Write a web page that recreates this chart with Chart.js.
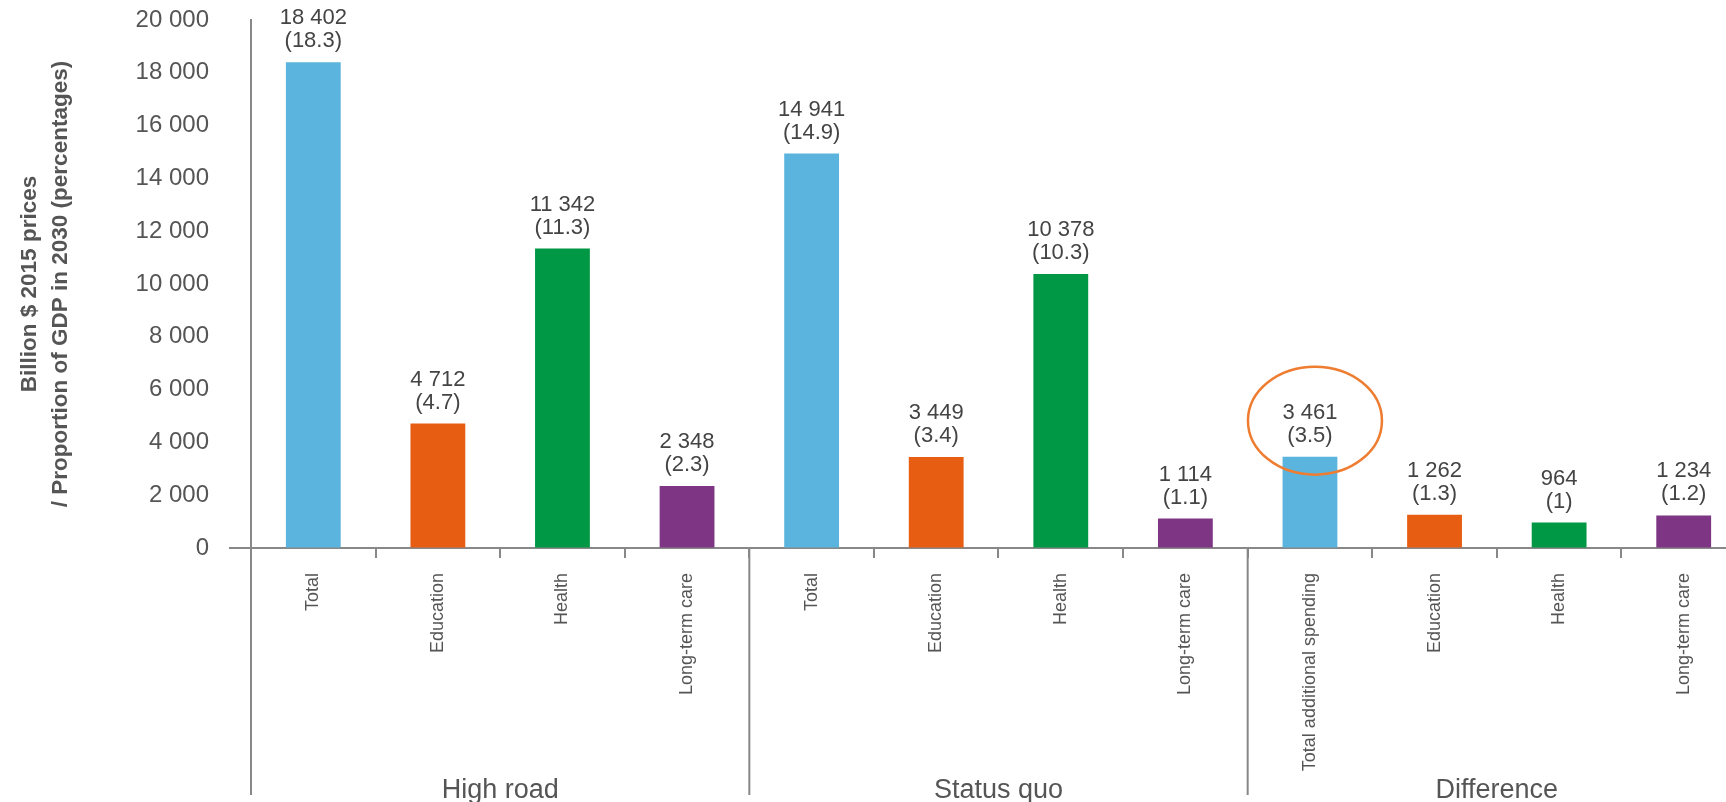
<!DOCTYPE html>
<html>
<head>
<meta charset="utf-8">
<title>Social spending 2030</title>
<script src="https://cdn.jsdelivr.net/npm/chart.js@4/dist/chart.umd.min.js"></script>
<style>
  html, body { margin: 0; padding: 0; background: #fff; overflow: hidden; }
  #wrap { position: relative; width: 1760px; height: 802px; }
</style>
</head>
<body>
<div id="wrap"><canvas id="chart"></canvas></div>
<script>
  // values
  var groups = ['High road', 'Status quo', 'Difference'];
  var categories = ['Total', 'Education', 'Health', 'Long-term care',
    'Total', 'Education', 'Health', 'Long-term care',
    'Total additional spending', 'Education', 'Health', 'Long-term care'];
  var spending = [18402, 4712, 11342, 2348, 14941, 3449, 10378, 1114, 3461, 1262, 964, 1234];
  var gdpShare = [18.3, 4.7, 11.3, 2.3, 14.9, 3.4, 10.3, 1.1, 3.5, 1.3, 1, 1.2];
  var circledIndex = 8;

  var typeColors = ['#5BB4DD', '#E75D12', '#009845', '#7D3584'];
  var textColor = '#555';
  var font = "'Liberation Sans', Arial, sans-serif";

  function spaced(n) {
    return String(n).replace(/\B(?=(\d{3})+(?!\d))/g, ' ');
  }

  // labels, group lines and the circle
  var extras = {
    id: 'extras',
    afterDraw: function (chart) {
      var ctx = chart.ctx;
      var area = chart.chartArea;
      var x = chart.scales.x;
      var meta = chart.getDatasetMeta(0);
      var bottom = 795;
      var step = x.getPixelForValue(1) - x.getPixelForValue(0);

      ctx.save();
      ctx.strokeStyle = '#888';
      ctx.lineWidth = 2;
      ctx.beginPath();
      // y axis continues down, zero line sticks out to the left
      ctx.moveTo(area.left, area.bottom);
      ctx.lineTo(area.left, bottom);
      ctx.moveTo(area.left - 22, area.bottom);
      ctx.lineTo(area.left, area.bottom);
      for (var g = 1; g < groups.length; g++) {
        var sx = x.getPixelForValue(g * 4) - step / 2;
        ctx.moveTo(sx, area.bottom);
        ctx.lineTo(sx, bottom);
      }
      ctx.stroke();

      ctx.fillStyle = textColor;
      ctx.textAlign = 'center';
      ctx.textBaseline = 'middle';
      ctx.font = '27px ' + font;
      groups.forEach(function (name, g) {
        var cx = (x.getPixelForValue(g * 4) + x.getPixelForValue(g * 4 + 3)) / 2;
        ctx.fillText(name, cx, 791);
      });

      ctx.fillStyle = '#444';
      ctx.font = '22px ' + font;
      meta.data.forEach(function (bar, i) {
        ctx.fillText(spaced(spending[i]), bar.x, bar.y - 44);
        ctx.fillText('(' + gdpShare[i] + ')', bar.x, bar.y - 21);
      });

      var cb = meta.data[circledIndex];
      ctx.strokeStyle = '#EE7D31';
      ctx.lineWidth = 2.5;
      ctx.beginPath();
      ctx.ellipse(cb.x + 5, cb.y - 36, 67, 54, 0, 0, Math.PI * 2);
      ctx.stroke();
      ctx.restore();
    }
  };

  new Chart(document.getElementById('chart'), {
    type: 'bar',
    data: {
      labels: categories,
      datasets: [{
        data: spending,
        backgroundColor: spending.map(function (v, i) { return typeColors[i % 4]; }),
        borderWidth: 0,
        categoryPercentage: 1,
        barPercentage: 0.44
      }]
    },
    options: {
      responsive: true,
      maintainAspectRatio: false,
      animation: false,
      layout: { padding: { top: 20, right: 14, left: 0, bottom: 0 } },
      plugins: {
        legend: { display: false },
        tooltip: { enabled: false }
      },
      scales: {
        x: {
          grid: { display: true, drawOnChartArea: false, drawTicks: true, tickLength: 10, color: '#888', lineWidth: 2, offset: true },
          border: { display: true, color: '#888', width: 2 },
          ticks: {
            autoSkip: false, minRotation: 90, maxRotation: 90, padding: 15,
            color: textColor, font: { family: font, size: 18 }
          },
          afterFit: function (scale) {
            scale.height = 254;
            scale.paddingLeft = 0;
            scale.paddingRight = 0;
          }
        },
        y: {
          min: 0,
          max: 20000,
          grid: { display: true, drawOnChartArea: false, drawTicks: false },
          border: { display: true, color: '#888', width: 2 },
          ticks: {
            stepSize: 2000, padding: 42, color: textColor,
            font: { family: font, size: 24 },
            callback: function (v) { return spaced(v); }
          },
          title: {
            display: true,
            text: ['Billion $ 2015 prices', '/ Proportion of GDP in 2030 (percentages)'],
            color: textColor,
            font: { family: font, size: 22.5, weight: 'bold', lineHeight: 1.35 },
            padding: { top: 15, bottom: 0 }
          },
          afterFit: function (scale) {
            scale.width = 251;
            scale.paddingTop = 0;
            scale.paddingBottom = 0;
          }
        }
      }
    },
    plugins: [extras]
  });
</script>
</body>
</html>
